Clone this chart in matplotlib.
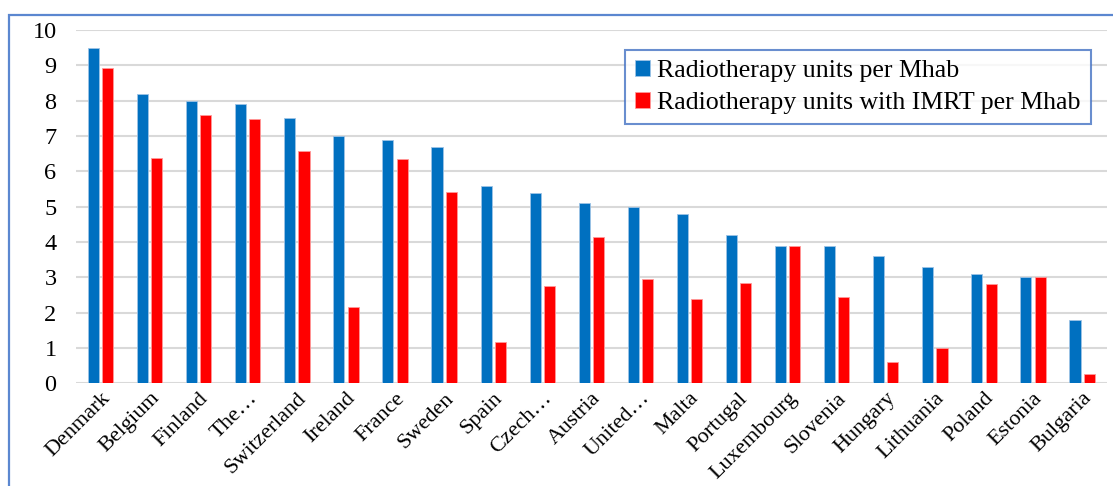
import numpy as np
import matplotlib
matplotlib.use('Agg')
import matplotlib.pyplot as plt
from matplotlib.patches import Rectangle

# data
countries = ['Denmark', 'Belgium', 'Finland', 'The\u2026', 'Switzerland', 'Ireland',
             'France', 'Sweden', 'Spain', 'Czech\u2026', 'Austria', 'United\u2026',
             'Malta', 'Portugal', 'Luxembourg', 'Slovenia', 'Hungary', 'Lithuania',
             'Poland', 'Estonia', 'Bulgaria']
units = [9.5, 8.2, 8.0, 7.9, 7.5, 7.0, 6.9, 6.7, 5.6, 5.4, 5.1, 5.0,
         4.8, 4.2, 3.9, 3.9, 3.6, 3.3, 3.1, 3.0, 1.8]
units_imrt = [8.92, 6.39, 7.59, 7.49, 6.59, 2.17, 6.34, 5.42, 1.17, 2.75, 4.13, 2.95,
              2.4, 2.85, 3.9, 2.45, 0.61, 0.99, 2.81, 3.0, 0.27]

label_units = 'Radiotherapy units per Mhab'
label_imrt = 'Radiotherapy units with IMRT per Mhab'

plt.rcParams['font.family'] = ['Liberation Serif', 'DejaVu Serif']

fig = plt.figure(figsize=(11.13, 4.86), dpi=100)
ax = fig.add_axes([0.0683, 0.2113, 0.926, 0.7267])

x = np.arange(len(countries))
w = 0.225
off = 0.145
ax.bar(x - off, units, w, color='#0070C0', edgecolor='#9DC3E6', linewidth=0.6,
       label=label_units, zorder=3)
ax.bar(x + off, units_imrt, w, color='#FF0000', edgecolor='#FF9999', linewidth=0.6,
       label=label_imrt, zorder=3)

ax.set_xlim(-0.5, len(countries) - 0.5)
ax.set_ylim(0, 10)
ax.set_yticks(range(0, 11))
ax.yaxis.grid(True, color='#D9D9D9', linewidth=1.5, zorder=0)
ax.set_axisbelow(True)
for s in ax.spines.values():
    s.set_visible(False)

ax.set_xticks(x)
ax.set_xticklabels(countries, rotation=45, ha='right', va='top',
                   rotation_mode='anchor', fontsize=16)
ax.tick_params(axis='x', length=0, pad=4)
ax.tick_params(axis='y', length=0, pad=14, labelsize=17.5)

leg = ax.legend(loc='upper left', bbox_to_anchor=(625 / 1113, 1 - 50 / 486),
                bbox_transform=fig.transFigure, borderaxespad=0, fontsize=18.6,
                frameon=True, fancybox=False, handlelength=0.57, handleheight=0.57,
                handletextpad=0.3, borderpad=0.38, labelspacing=0.38)
leg.get_frame().set_edgecolor('#4472C4')
leg.get_frame().set_linewidth(1.5)

# outer chart border (runs off the right and bottom edges)
fig.patches.append(Rectangle((9 / 1113, -0.1), 1.2, 1.1 - 15 / 486,
                             transform=fig.transFigure, fill=False,
                             edgecolor='#5B87D0', linewidth=1.6))

fig.savefig('out.png', dpi=100)
